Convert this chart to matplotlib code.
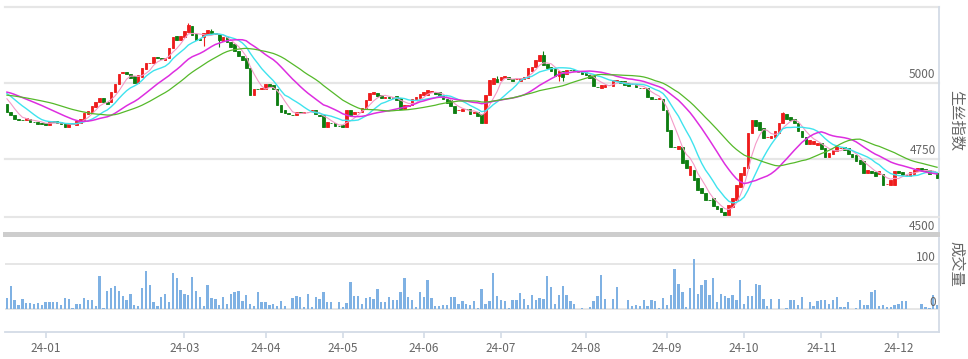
import matplotlib
matplotlib.use('Agg')
import matplotlib.pyplot as plt
import numpy as np
import pandas as pd
from matplotlib.patches import Rectangle
from matplotlib.lines import Line2D
from matplotlib.transforms import blended_transform_factory

plt.rcParams['font.family'] = ['Noto Sans CJK SC', 'DejaVu Sans']

# ---------------- data ----------------
prior_close = [4935, 4930, 4938, 4945, 4942, 4950, 4940, 4935, 4945, 4940,
               4960, 4970, 4980, 4985, 4978, 4982, 4975, 4970, 4972, 4978,
               4985, 4990, 4982, 4978, 4975, 4972, 4968, 4955, 4940]

open_ = [4931, 4905, 4895, 4880, 4878, 4877, 4883, 4873, 4872, 4867,
         4870, 4862, 4873, 4875, 4872, 4867, 4855, 4867, 4862, 4870,
         4878, 4898, 4906, 4921, 4936, 4951, 4939, 4936, 4969, 4998,
         5033, 5036, 5031, 5023, 5000, 5020, 5046, 5066, 5067, 5084,
         5081, 5076, 5081, 5114, 5155, 5141, 5150, 5169, 5186, 5160,
         5145, 5151, 5161, 5171, 5163, 5160, 5138, 5150, 5136, 5127,
         5105, 5089, 5082, 5048, 4962, 4980, 4980, 4980, 4997, 4993,
         4980, 4929, 4911, 4900, 4896, 4896, 4903, 4900, 4906, 4908,
         4910, 4896, 4895, 4854, 4868, 4867, 4859, 4862, 4855, 4910,
         4898, 4905, 4905, 4918, 4944, 4965, 4968, 4960, 4952, 4954,
         4952, 4956, 4952, 4914, 4924, 4928, 4947, 4951, 4962, 4960,
         4972, 4972, 4969, 4956, 4949, 4944, 4924, 4910, 4909, 4916,
         4913, 4901, 4906, 4898, 4868, 4960, 4998, 5013, 5010, 5016,
         5021, 5013, 5012, 5007, 5013, 5018, 5040, 5054, 5071, 5092,
         5062, 5054, 5046, 5023, 5038, 5031, 5043, 5044, 5038, 5038,
         5035, 5026, 5023, 4988, 4982, 4988, 4993, 4990, 5008, 5005,
         5005, 5000, 4997, 4997, 4984, 4982, 4984, 4954, 4949, 4947,
         4947, 4911, 4845, 4790, 4783, 4790, 4747, 4697, 4714, 4688,
         4655, 4638, 4615, 4622, 4594, 4589, 4577, 4566, 4592, 4615,
         4658, 4697, 4720, 4836, 4878, 4872, 4852, 4821, 4819, 4822,
         4836, 4868, 4898, 4888, 4883, 4867, 4841, 4824, 4799, 4799,
         4796, 4804, 4786, 4758, 4767, 4775, 4785, 4788, 4785, 4768,
         4763, 4748, 4742, 4704, 4712, 4706, 4701, 4701, 4668, 4665,
         4665, 4712, 4706, 4697, 4694, 4701, 4712, 4720, 4717, 4714,
         4709, 4704]

close = [4905, 4895, 4882, 4878, 4877, 4885, 4873, 4872, 4865, 4865,
         4862, 4873, 4874, 4868, 4864, 4855, 4867, 4865, 4875, 4882,
         4901, 4908, 4924, 4938, 4951, 4938, 4931, 4969, 4998, 5031,
         5035, 5030, 5018, 5000, 5025, 5049, 5066, 5067, 5084, 5081,
         5079, 5082, 5114, 5152, 5141, 5153, 5171, 5191, 5158, 5141,
         5143, 5163, 5174, 5163, 5162, 5141, 5151, 5136, 5120, 5105,
         5089, 5076, 5048, 4960, 4980, 4979, 4982, 4998, 4988, 4980,
         4928, 4906, 4900, 4898, 4895, 4903, 4901, 4906, 4905, 4911,
         4898, 4891, 4854, 4873, 4867, 4859, 4857, 4854, 4911, 4896,
         4905, 4906, 4918, 4944, 4967, 4970, 4956, 4951, 4953, 4952,
         4953, 4944, 4914, 4928, 4926, 4949, 4954, 4965, 4969, 4977,
         4973, 4964, 4956, 4947, 4934, 4923, 4901, 4911, 4916, 4913,
         4898, 4903, 4890, 4868, 4960, 5010, 5018, 5002, 5020, 5023,
         5013, 5005, 5013, 5018, 5021, 5049, 5054, 5076, 5092, 5059,
         5048, 5041, 5023, 5038, 5021, 5043, 5042, 5038, 5037, 5031,
         5026, 5018, 4990, 4987, 4992, 4993, 4992, 5010, 5009, 5000,
         4993, 4990, 4998, 4988, 4983, 4984, 4954, 4947, 4948, 4952,
         4910, 4841, 4790, 4788, 4793, 4737, 4720, 4727, 4681, 4648,
         4638, 4615, 4614, 4594, 4586, 4577, 4563, 4599, 4622, 4665,
         4704, 4724, 4836, 4878, 4857, 4845, 4819, 4822, 4826, 4841,
         4868, 4900, 4880, 4878, 4867, 4841, 4824, 4799, 4811, 4808,
         4804, 4783, 4758, 4770, 4780, 4793, 4786, 4781, 4767, 4758,
         4745, 4734, 4704, 4715, 4704, 4694, 4709, 4665, 4669, 4681,
         4709, 4704, 4697, 4698, 4706, 4715, 4720, 4712, 4709, 4702,
         4710, 4688]

wick_high = {47: 5197, 53: 5178, 127: 5023, 139: 5106, 201: 4905}
wick_low = {51: 5122, 55: 5118, 143: 5005, 144: 5005}

volume = [24, 52, 19, 10, 22, 13, 13, 12, 13, 10,
          15, 15, 15, 15, 10, 24, 23, 2, 12, 12,
          24, 21, 21, 7, 74, 2, 39, 47, 52, 39,
          30, 21, 34, 10, 6, 47, 84, 54, 15, 6,
          27, 34, 15, 81, 69, 43, 34, 32, 71, 39,
          27, 7, 54, 24, 23, 10, 27, 12, 34, 37,
          39, 17, 32, 12, 7, 37, 15, 15, 10, 12,
          7, 17, 7, 0, 24, 28, 27, 4, 34, 4,
          27, 22, 37, 15, 15, 0, 15, 4, 13, 61,
          30, 30, 12, 24, 27, 22, 44, 15, 15,
          27, 21, 21, 37, 69, 27, 21, 4, 37, 27,
          64, 24, 7, 7, 10, 10, 27, 27, 12, 17,
          12, 10, 17, 2,
          44, 12, 17, 79, 28, 21, 17, 2, 19, 21,
          36, 22, 10, 32, 19, 24, 22, 74, 49, 12,
          32, 52, 32, 17, 12, 0, 2, 0, 4, 17,
          28, 76, 22, 0, 22, 50, 0, 0, 19, 6,
          10, 7, 19, 7, 21, 17, 2, 24, 10, 32,
          89, 56, 37, 4, 47, 111, 34, 54, 64, 32,
          69, 15, 34, 30, 24, 32, 21, 65, 12, 28,
          30, 56, 54, 22, 7, 22, 0, 22, 0, 2,
          19, 19, 10, 27, 0, 15, 6, 17, 19, 21,
          12, 19, 27, 4, 4, 15, 0, 2, 19, 10,
          10, 37, 43, 7, 10, 4, 4, 10, 12, 17,
          17, 0, 0, 0, 12, 4, 2, 32, 10]

ma_periods = [5, 10, 20, 30]
ma_colors = ['#f49ac8', '#3fe3ee', '#dd2ee0', '#55b92a']
ma_widths = [0.8, 1.0, 1.1, 0.9]

month_labels = ['24-01', '24-03', '24-04', '24-05', '24-06', '24-07',
                '24-08', '24-09', '24-10', '24-11', '24-12']
month_idx = [10, 46, 67, 87, 108, 128, 150, 171, 191, 211, 231]

price_ticks = [5000, 4750, 4500]
price_grid = [5250, 5000, 4750]
vol_ticks = [100, 0]

# ---------------- figure ----------------
W, H = 968, 359
fig = plt.figure(figsize=(W / 100, H / 100), dpi=100)


def fx(px):
    return px / W


def fy(py):
    return 1 - py / H


N = len(close)
x = np.arange(N)
o = np.array(open_, dtype=float)
c = np.array(close, dtype=float)
hi = np.maximum(o, c)
lo = np.minimum(o, c)
for k, v in wick_high.items():
    hi[k] = v
for k, v in wick_low.items():
    lo[k] = v

RED = '#ee1c1c'
GREEN = '#0d7d10'
GRID = '#e6e6e6'
AXC = '#d3dbe6'
TXT = '#666666'

ax = fig.add_axes([fx(5), fy(235), fx(934), (235 - 7) / H])
ax.set_xlim(-0.5, N - 0.5)
ax.set_ylim(4500, 5250)
for s in ['left', 'top', 'bottom']:
    ax.spines[s].set_visible(False)
ax.spines['right'].set_color(AXC)
ax.spines['right'].set_linewidth(1.3)
ax.set_xticks([])
ax.set_yticks([])
for g in price_grid:
    ax.axhline(g, color=GRID, lw=1.6, zorder=0, clip_on=False)

cols = [RED if cc >= oo else GREEN for oo, cc in zip(o, c)]
ax.vlines(x, lo, hi, colors=cols, lw=0.8, zorder=2)
ax.bar(x, c - o, bottom=o, width=0.68, color=cols, edgecolor=cols,
       linewidth=0.6, zorder=3)

full = pd.Series(list(prior_close) + list(close), dtype=float)
for p, col, lw in zip(ma_periods, ma_colors, ma_widths):
    ma = full.rolling(p).mean().to_numpy()[len(prior_close):]
    ax.plot(x, ma, color=col, lw=lw, zorder=4)

trans = blended_transform_factory(ax.transAxes, ax.transData)
for v in price_ticks:
    ax.annotate(str(v), xy=(1, v), xycoords=trans, xytext=(-2.5, 5.8),
                textcoords='offset points', ha='right', va='center',
                fontsize=8.5, color=TXT, annotation_clip=False, zorder=6)

# extra line under candle area and thick separator
fig.add_artist(Line2D([fx(5), fx(939)], [fy(217), fy(217)], color=GRID, lw=1.5))
fig.add_artist(Rectangle((fx(3), fy(236.5)), fx(937), 4.5 / H,
                         color='#cdcdcd', lw=0))

# ---------------- volume ----------------
axv = fig.add_axes([fx(5), fy(332), fx(934), (332 - 238) / H])
axv.set_xlim(-0.5, N - 0.5)
axv.set_ylim(-51.1, 157.8)
for s in ['left', 'top']:
    axv.spines[s].set_visible(False)
axv.spines['right'].set_color(AXC)
axv.spines['right'].set_linewidth(1.3)
axv.spines['bottom'].set_color(AXC)
axv.spines['bottom'].set_linewidth(1.3)
axv.set_yticks([])
for g in vol_ticks:
    axv.axhline(g, color=GRID, lw=1.4, zorder=0)
axv.bar(x, volume, width=0.6, color='#7fb1e3', zorder=2)

axv.set_xticks(month_idx)
axv.set_xticklabels(month_labels)
axv.tick_params(axis='x', direction='out', length=4.3, width=1.2, color=AXC,
                labelsize=8.5, labelcolor=TXT, pad=3)

transv = blended_transform_factory(axv.transAxes, axv.transData)
for v in vol_ticks:
    axv.annotate(str(v), xy=(1, v), xycoords=transv, xytext=(-2.5, 4.5),
                 textcoords='offset points', ha='right', va='center',
                 fontsize=8.5, color=TXT, annotation_clip=False, zorder=6)

fig.text(fx(956), fy(121), '生丝指数', rotation=-90, ha='center', va='center',
         fontsize=11, color=TXT)
fig.text(fx(956), fy(264), '成交量', rotation=-90, ha='center', va='center',
         fontsize=11, color=TXT)

fig.savefig('out.png', dpi=100, facecolor='white')
